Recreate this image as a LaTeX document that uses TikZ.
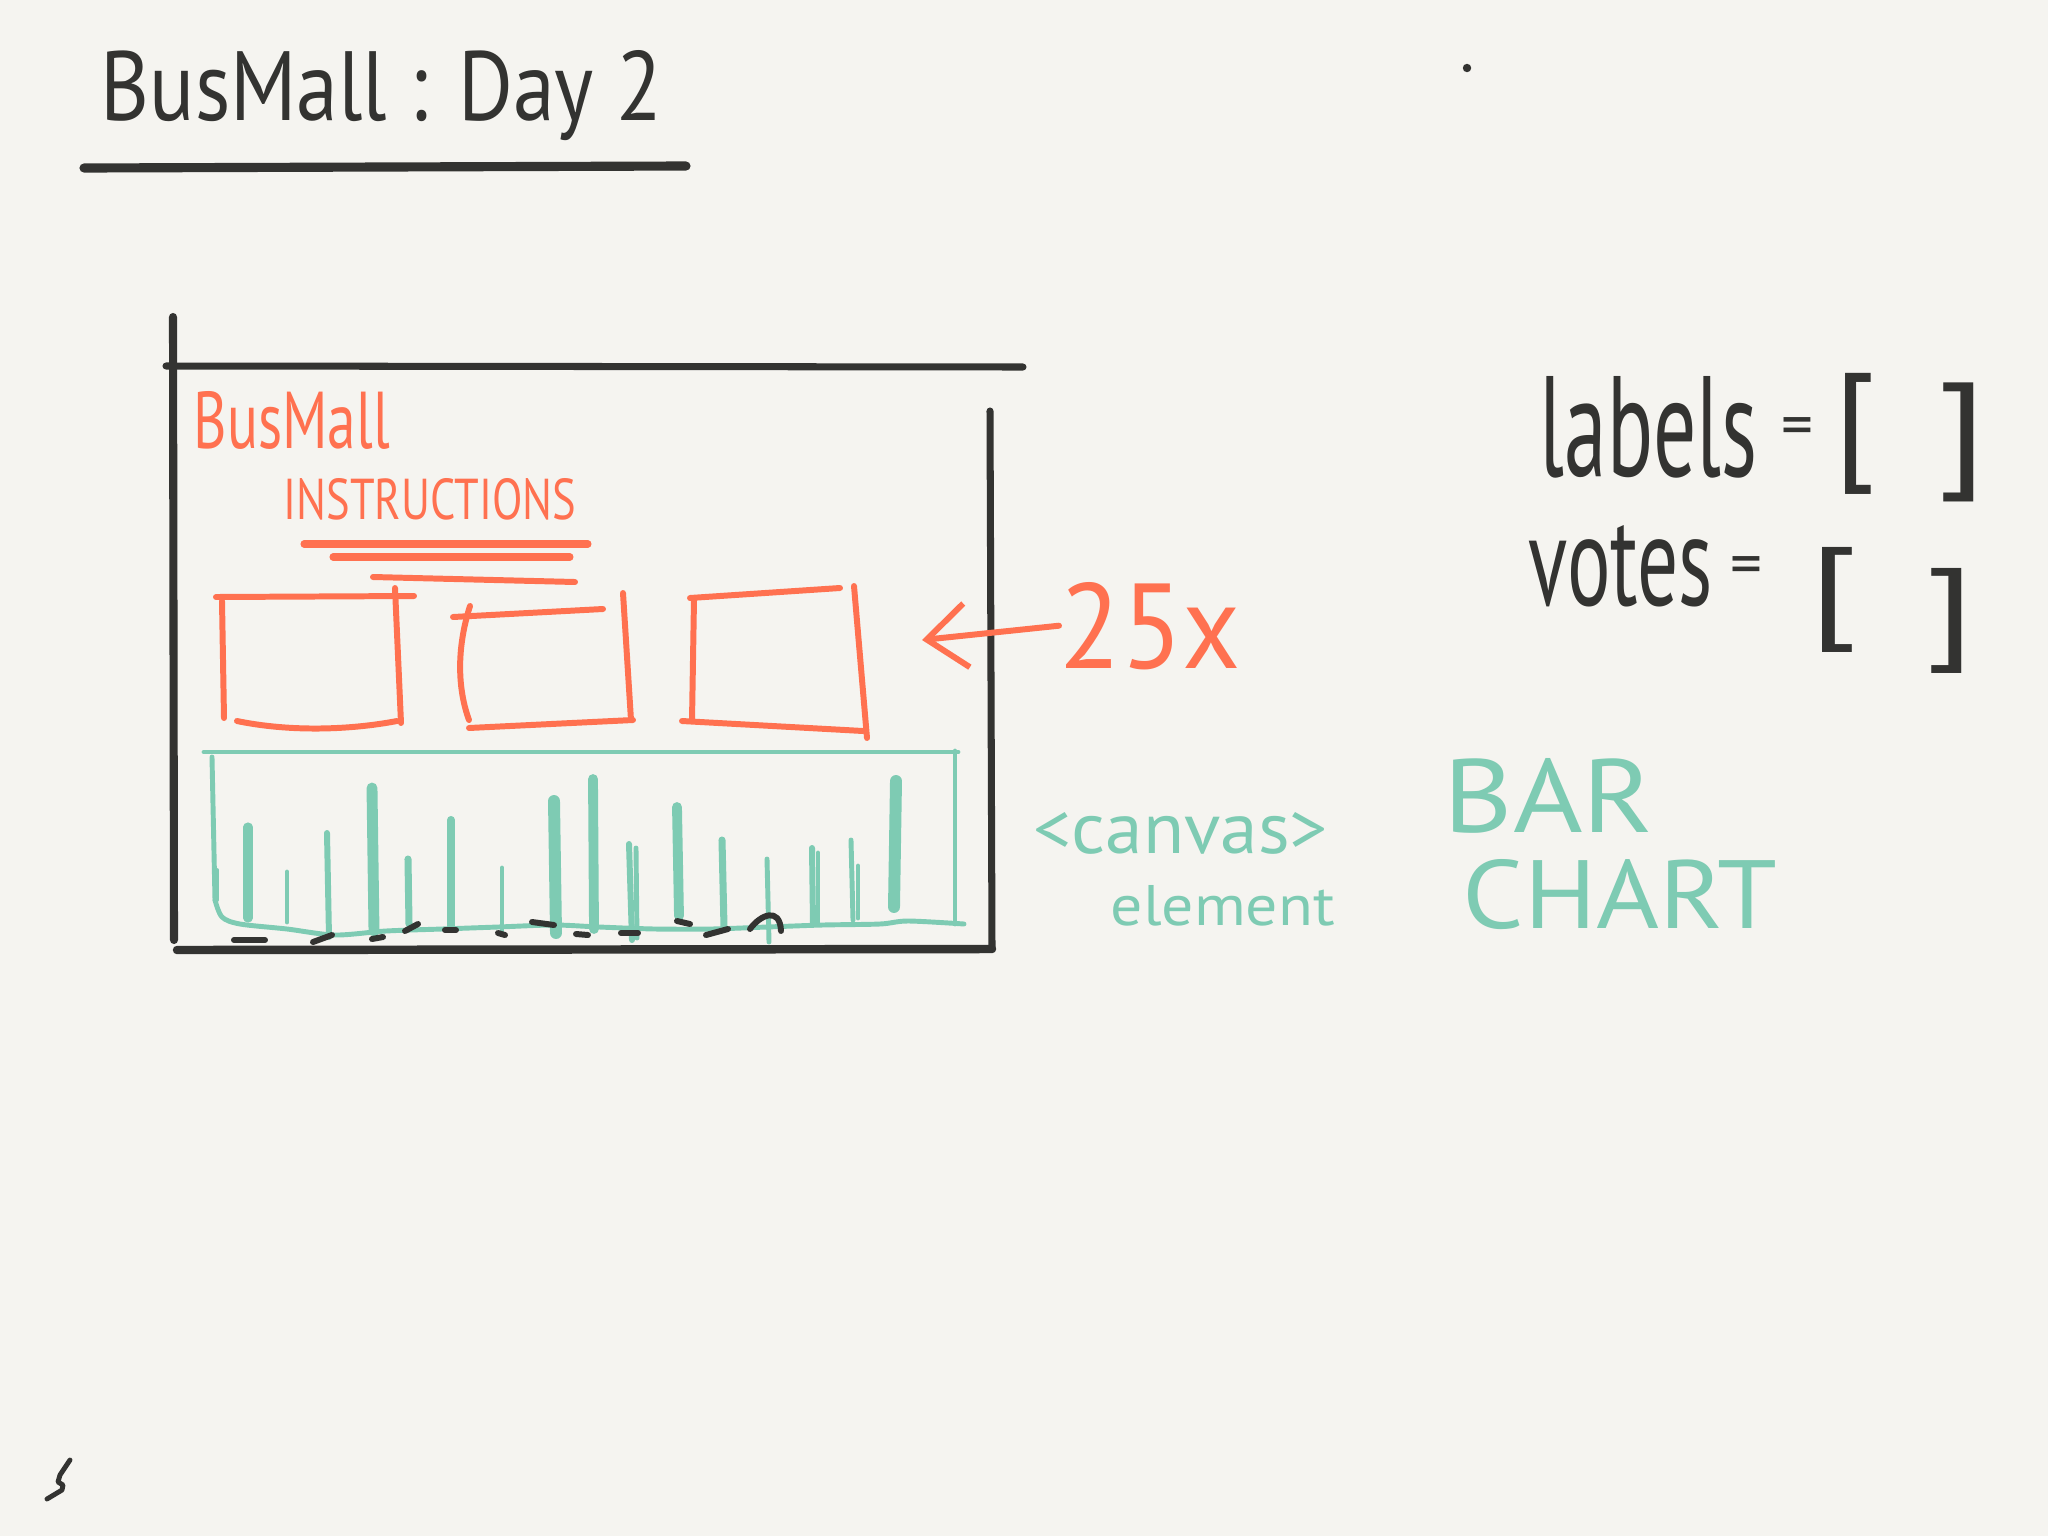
\documentclass[tikz,border=0pt]{standalone}
\usepackage{fontspec}
\setmainfont{PT Sans}
\usepackage{graphicx}
\usetikzlibrary{arrows.meta}
\definecolor{paper}{HTML}{F5F4F0}
\definecolor{inkgray}{HTML}{333331}
\definecolor{coralred}{HTML}{FF7150}
\definecolor{mintgreen}{HTML}{7ECBB3}

\begin{document}
\begin{tikzpicture}[x=0.01cm, y=-0.01cm, line cap=round, line join=round,
        ink/.style={draw=inkgray, line width=2pt},
        coral/.style={draw=coralred, line width=1.7pt},
        mint/.style={draw=mintgreen, line width=1.4pt},
        hand/.style={inner sep=0pt, anchor=base west}]
        % Paper
        \fill[paper] (0,0) rectangle (2048,1536);
        \useasboundingbox (0,0) rectangle (2048,1536);

        % Title
        \node[hand, text=inkgray] (title) at (100,120) {\resizebox{5.61cm}{0.70cm}{BusMall : Day 2}};
        \draw[ink, line width=2.6pt] (84,168) -- (686,166);
        \fill[inkgray] (1467,68) circle (1.2pt);

        % Page frame
        \draw[ink, line width=2.3pt] (173,317) -- (174,940);
        \draw[ink] (166,366) -- (1023,367);
        \draw[ink] (990,411) -- (992,948);
        \draw[ink, line width=2.4pt] (177,950) -- (992,949);

        % Header
        \node[hand, text=coralred] (busmall) at (193,448) {\resizebox{1.96cm}{0.57cm}{BusMall}};
        \node[hand, text=coralred] (instructions) at (283,519) {\resizebox{2.92cm}{0.41cm}{INSTRUCTIONS}};
        \draw[coral, line width=2pt] (304,544) -- (588,544);
        \draw[coral, line width=2pt] (333,557) -- (570,557);
        \draw[coral] (373,577) -- (575,582);

        % Product boxes
        \draw[coral] (216,597) -- (414,596);
        \draw[coral] (222,601) -- (224,718);
        \draw[coral] (395,588) -- (401,723);
        \draw[coral] (237,721) .. controls (290,732) and (350,730) .. (397,721);
        \draw[coral] (453,617) -- (603,609);
        \draw[coral] (470,606) .. controls (456,650) and (458,690) .. (469,720);
        \draw[coral] (623,593) -- (631,720);
        \draw[coral] (469,728) -- (633,720);
        \draw[coral] (690,598) -- (840,588);
        \draw[coral] (694,599) -- (692,721);
        \draw[coral] (854,586) -- (867,738);
        \draw[coral] (682,721) -- (863,731);

        % Repeat count
        \node[hand, text=coralred] (count) at (1059,668) {\resizebox{1.81cm}{0.86cm}{25x}};
        \coordinate (arrowtip) at (922,640);
        \draw[coral, -{Straight Barb[length=4mm, width=6.4mm]}] (count.west) -- (arrowtip);

        % Canvas element
        \draw[mint] (204,752) -- (958,752);
        \draw[mint] (955,751) -- (955,924);
        \draw[mint] (212,757) -- (215,900);
        \draw[mint] plot[smooth] coordinates {(215,900) (222,917) (240,924) (287,929) (335,935) (386,931)
            (442,929) (498,927) (554,925) (599,927) (655,929) (711,929) (767,927) (823,925) (880,924)
            (908,921) (964,924)};

        % Bars
        \draw[mint, line width=1.1pt] (217,870) -- (217,900);
        \draw[mint, line width=2.6pt] (248,827) -- (248,918);
        \draw[mint, line width=1.4pt] (287,872) -- (287,922);
        \draw[mint, line width=1.7pt] (327,833) -- (329,937);
        \draw[mint, line width=3.1pt] (372,788) -- (374,931);
        \draw[mint, line width=2pt] (408,859) -- (409,924);
        \draw[mint, line width=2.3pt] (451,820) -- (451,929);
        \draw[mint, line width=1.4pt] (502,868) -- (502,933);
        \draw[mint, line width=3.4pt] (554,801) -- (556,933);
        \draw[mint, line width=2.8pt] (593,779) -- (594,929);
        \draw[mint, line width=1.7pt] (629,844) -- (632,940);
        \draw[mint, line width=1.4pt] (636,848) -- (637,938);
        \draw[mint, line width=2.8pt] (677,807) -- (679,916);
        \draw[mint, line width=2pt] (722,840) -- (724,927);
        \draw[mint, line width=1.4pt] (767,859) -- (769,942);
        \draw[mint, line width=1.7pt] (812,848) -- (813,924);
        \draw[mint, line width=1.4pt] (818,853) -- (818,924);
        \draw[mint, line width=1.4pt] (851,840) -- (853,920);
        \draw[mint, line width=1.4pt] (858,866) -- (858,918);
        \draw[mint, line width=3.4pt] (896,781) -- (894,907);

        % Axis labels
        \draw[ink, line width=1.7pt] (234,940) -- (265,940);
        \draw[ink, line width=1.7pt] (313,942) -- (332,935);
        \draw[ink, line width=1.7pt] (372,939) -- (383,937);
        \draw[ink, line width=1.7pt] (405,931) -- (418,924);
        \draw[ink, line width=1.7pt] (445,930) -- (456,930);
        \draw[ink, line width=1.7pt] (498,933) -- (505,935);
        \draw[ink, line width=1.7pt] (532,922) -- (554,925);
        \draw[ink, line width=1.7pt] (576,934) -- (588,935);
        \draw[ink, line width=1.7pt] (621,933) -- (638,933);
        \draw[ink, line width=1.7pt] (677,921) -- (690,924);
        \draw[ink, line width=1.7pt] (706,935) -- (728,929);
        \draw[ink, line width=1.7pt] (750,929) .. controls (760,915) and (780,906) .. (781,931);

        \node[hand, text=mintgreen] (canvas) at (1033,853) {\resizebox{2.94cm}{0.41cm}{<canvas>}};
        \node[hand, text=mintgreen] (element) at (1110,925) {\resizebox{2.24cm}{0.40cm}{element}};
        \node[hand, text=mintgreen] (bar) at (1443,832) {\resizebox{2.10cm}{0.74cm}{BAR}};
        \node[hand, text=mintgreen] (chart) at (1462,928) {\resizebox{3.14cm}{0.69cm}{CHART}};

        % Arrays
        \node[hand, text=inkgray] (labels) at (1539,476) {\resizebox{2.18cm}{1.00cm}{labels}};
        \node[text=inkgray, inner sep=0pt, font=\fontsize{18}{20}\selectfont] (labelseq) at (1797,432) {=};
        \node[text=inkgray, inner sep=0pt] (labelsopen) at (1855,434) {\resizebox*{0.43cm}{1.21cm}{[}};
        \node[text=inkgray, inner sep=0pt] (labelsclose) at (1963,442) {\resizebox*{0.50cm}{1.19cm}{]}};
        \node[hand, text=inkgray] (votes) at (1528,605) {\resizebox{1.84cm}{0.80cm}{votes}};
        \node[text=inkgray, inner sep=0pt, font=\fontsize{18}{20}\selectfont] (voteseq) at (1746,571) {=};
        \node[text=inkgray, inner sep=0pt] (votesopen) at (1834,600) {\resizebox*{0.50cm}{1.05cm}{[}};
        \node[text=inkgray, inner sep=0pt] (votesclose) at (1951,621) {\resizebox*{0.50cm}{1.05cm}{]}};

        % Corner mark
        \draw[ink, line width=1.4pt] (70,1460) -- (60,1475) -- (58,1482) -- (63,1485) -- (62,1490) -- (47,1499);
    \end{tikzpicture}
\end{document}
